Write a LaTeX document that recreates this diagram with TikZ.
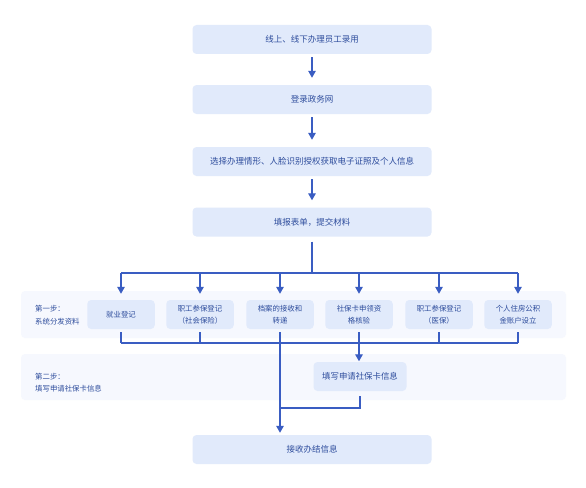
\documentclass[tikz,border=0pt]{standalone}
\usepackage{fontspec}
\setmainfont{Noto Sans CJK SC}
\usetikzlibrary{arrows.meta}
\definecolor{boxfill}{HTML}{E1EAFB}
\definecolor{bandfill}{HTML}{F6F8FE}
\definecolor{linecol}{HTML}{3A5DC2}
\definecolor{txtcol}{HTML}{2D4C9C}
\tikzset{
  mainbox/.style={fill=boxfill, rounded corners=4pt, minimum width=239pt, minimum height=29pt, inner sep=0pt, text=txtcol, font=\fontsize{8.5pt}{10pt}\selectfont},
  smallbox/.style={fill=boxfill, rounded corners=4pt, minimum width=67.5pt, minimum height=29pt, inner sep=0pt, text=txtcol, align=center, font=\fontsize{7.4pt}{12pt}\selectfont},
  midbox/.style={fill=boxfill, rounded corners=4pt, minimum width=93pt, minimum height=29pt, inner sep=0pt, text=txtcol, font=\fontsize{8.4pt}{10pt}\selectfont},
  bandlabel/.style={anchor=west, inner sep=0pt, text=txtcol, font=\fontsize{7.4pt}{9pt}\selectfont},
  conn/.style={draw=linecol, line width=1.3pt},
  arr/.style={conn, -{Triangle[width=7.5pt,length=7pt]}},
}
\begin{document}
\begin{tikzpicture}[x=1pt,y=-1pt]
\useasboundingbox[fill=white] (0,0) rectangle (586,487);
% bands
\fill[bandfill, rounded corners=4pt] (21,291) rectangle (566,338);
\fill[bandfill, rounded corners=4pt] (21,354) rectangle (566,400);
\node[bandlabel] (l1a) at (35,309) {第一步：};
\node[bandlabel] (l1b) at (35,322) {系统分发资料};
\node[bandlabel] (l2a) at (35,377) {第二步：};
\node[bandlabel] (l2b) at (35,389) {填写申请社保卡信息};
% main boxes
\node[mainbox] (b1) at (312,39.5) {线上、线下办理员工录用};
\node[mainbox] (b2) at (312,99.5) {登录政务网};
\node[mainbox] (b3) at (312,161.5) {选择办理情形、人脸识别授权获取电子证照及个人信息};
\node[mainbox] (b4) at (312,222) {填报表单，提交材料};
\node[mainbox] (fin) at (312,449.5) {接收办结信息};
% small boxes
\node[smallbox] (s1) at (121,314.5) {就业登记};
\node[smallbox] (s2) at (200,314.5) {职工参保登记\\（社会保险）};
\node[smallbox] (s3) at (280,314.5) {档案的接收和\\转递};
\node[smallbox] (s4) at (359,314.5) {社保卡申领资\\格核验};
\node[smallbox] (s5) at (439,314.5) {职工参保登记\\（医保）};
\node[smallbox] (s6) at (518,314.5) {个人住房公积\\金账户设立};
\node[midbox] (mid) at (360,376.5) {填写申请社保卡信息};
% top arrows
\draw[arr, shorten <=3pt, shorten >=7pt] (b1) -- (b2);
\draw[arr, shorten <=3pt, shorten >=7pt] (b2) -- (b3);
\draw[arr, shorten <=3pt, shorten >=7pt] (b3) -- (b4);
% top bus
\coordinate (tb) at (312,273);
\coordinate (tbl) at (121,273);
\coordinate (tbr) at (518,273);
\draw[conn, shorten <=5pt] (b4.south) -- (tb);
\draw[conn] (tbl) -- (tbr);
\foreach \s in {s1,s2,s3,s4,s5,s6}{
  \draw[arr, shorten >=6pt] (tb -| \s) -- (\s.north);
}
% bottom bus
\coordinate (bb) at (0,343);
\draw[conn] (bb -| s1) -- (bb -| s6);
\foreach \s in {s1,s2,s5,s6}{
  \draw[conn, shorten <=3pt] (\s.south) -- (bb -| \s);
}
\draw[arr, shorten <=3pt, shorten >=0.5pt] (s4.south) -- (s4.south |- mid.north);
\draw[arr, shorten <=3pt, shorten >=2pt] (s3.south) -- (s3.south |- fin.north);
\coordinate (jn) at (0,408);
\draw[conn, shorten <=5pt] (mid.south) -- (jn -| mid.south) -- (jn -| s3.south);
\end{tikzpicture}
\end{document}
